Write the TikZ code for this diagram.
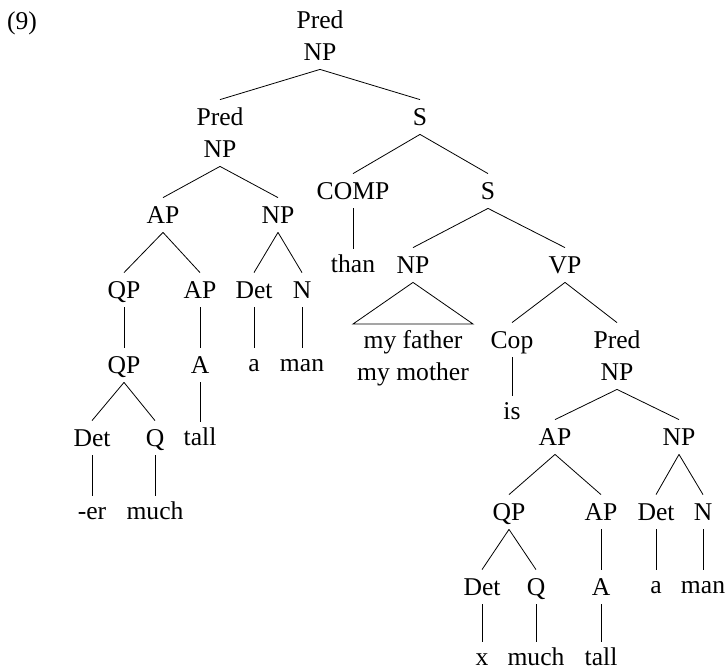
\documentclass[tikz,border=0pt]{standalone}
\usepackage{fontspec}
\setmainfont{Liberation Serif}

\begin{document}
\begin{tikzpicture}[x=0.5pt, y=-0.5pt,
    font=\fontsize{12.8}{16}\selectfont,
    lbl/.style={inner sep=0pt, text height=8.5pt, text depth=0pt, minimum height=17pt},
    leaf/.style={inner sep=0pt, text height=8.5pt, text depth=0pt, minimum height=15pt},
    twolbl/.style={inner sep=0pt, align=center, text height=24.5pt, text depth=0pt, minimum height=33pt}]
    \useasboundingbox (0,0) rectangle (727,670);
    \node[lbl] (ex) at (22,21) {(9)};

    % top of the tree
    \node[twolbl] (root) at (320,36) {Pred\\NP};
    \node[twolbl] (predl) at (220,133) {Pred\\NP};
    \node[lbl] (sr) at (420,117) {S};
    \draw (root.south) -- (predl.north);
    \draw (root.south) -- (sr.north);

    % left Pred NP
    \node[lbl] (apa) at (163,215) {AP};
    \node[lbl] (npa) at (278,215) {NP};
    \node[lbl] (qpa) at (124,290) {QP};
    \node[lbl] (apb) at (200,290) {AP};
    \node[lbl] (deta) at (254,290) {Det};
    \node[lbl] (na) at (302,290) {N};
    \node[lbl] (qpb) at (124,365) {QP};
    \node[lbl] (aa) at (200,365) {A};
    \node[leaf] (arta) at (254,363) {a};
    \node[leaf] (mana) at (302,363) {man};
    \node[lbl] (detb) at (92,438) {Det};
    \node[lbl] (qa) at (155,438) {Q};
    \node[leaf] (talla) at (200,437) {tall};
    \node[leaf] (er) at (92,511) {-er};
    \node[leaf] (mucha) at (155,511) {much};

    \draw (predl.south) -- (apa.north);
    \draw (predl.south) -- (npa.north);
    \draw (apa.south) -- (qpa.north);
    \draw (apa.south) -- (apb.north);
    \draw (npa.south) -- (deta.north);
    \draw (npa.south) -- (na.north);
    \draw (qpa.south) -- (qpb.north);
    \draw (apb.south) -- (aa.north);
    \draw (deta.south) -- (arta.north);
    \draw (na.south) -- (mana.north);
    \draw (qpb.south) -- (detb.north);
    \draw (qpb.south) -- (qa.north);
    \draw (aa.south) -- (talla.north);
    \draw (detb.south) -- (er.north);
    \draw (qa.south) -- (mucha.north);

    % comparative clause
    \node[lbl] (comp) at (353,191) {COMP};
    \node[lbl] (sb) at (488,191) {S};
    \node[leaf] (than) at (353,264) {than};
    \node[lbl] (npb) at (413,265) {NP};
    \node[lbl] (vp) at (565,265) {VP};
    \node[twolbl] (fm) at (413,356) {my father\\my mother};
    \coordinate (tril) at (353,324);
    \coordinate (trir) at (473,324);
    \node[lbl] (cop) at (512,340) {Cop};
    \node[twolbl] (predr) at (617,356) {Pred\\NP};
    \node[leaf] (is) at (512,411) {is};

    \draw (sr.south) -- (comp.north);
    \draw (sr.south) -- (sb.north);
    \draw (comp.south) -- (than.north);
    \draw (sb.south) -- (npb.north);
    \draw (sb.south) -- (vp.north);
    \draw (npb.south) -- (tril) -- (trir) -- cycle;
    \draw (vp.south) -- (cop.north);
    \draw (vp.south) -- (predr.north);
    \draw (cop.south) -- (is.north);

    % right Pred NP
    \node[lbl] (apc) at (555,437) {AP};
    \node[lbl] (npc) at (679,437) {NP};
    \node[lbl] (qpc) at (509,512) {QP};
    \node[lbl] (apd) at (601,512) {AP};
    \node[lbl] (detc) at (656,512) {Det};
    \node[lbl] (nc) at (703,512) {N};
    \node[lbl] (detd) at (482,587) {Det};
    \node[lbl] (qb) at (536,587) {Q};
    \node[lbl] (ab) at (601,587) {A};
    \node[leaf] (artb) at (656,585) {a};
    \node[leaf] (manb) at (703,585) {man};
    \node[leaf] (xx) at (482,657) {x};
    \node[leaf] (muchb) at (536,657) {much};
    \node[leaf] (tallb) at (601,657) {tall};

    \draw (predr.south) -- (apc.north);
    \draw (predr.south) -- (npc.north);
    \draw (apc.south) -- (qpc.north);
    \draw (apc.south) -- (apd.north);
    \draw (npc.south) -- (detc.north);
    \draw (npc.south) -- (nc.north);
    \draw (qpc.south) -- (detd.north);
    \draw (qpc.south) -- (qb.north);
    \draw (apd.south) -- (ab.north);
    \draw (detc.south) -- (artb.north);
    \draw (nc.south) -- (manb.north);
    \draw (detd.south) -- (xx.north);
    \draw (qb.south) -- (muchb.north);
    \draw (ab.south) -- (tallb.north);
\end{tikzpicture}
\end{document}
